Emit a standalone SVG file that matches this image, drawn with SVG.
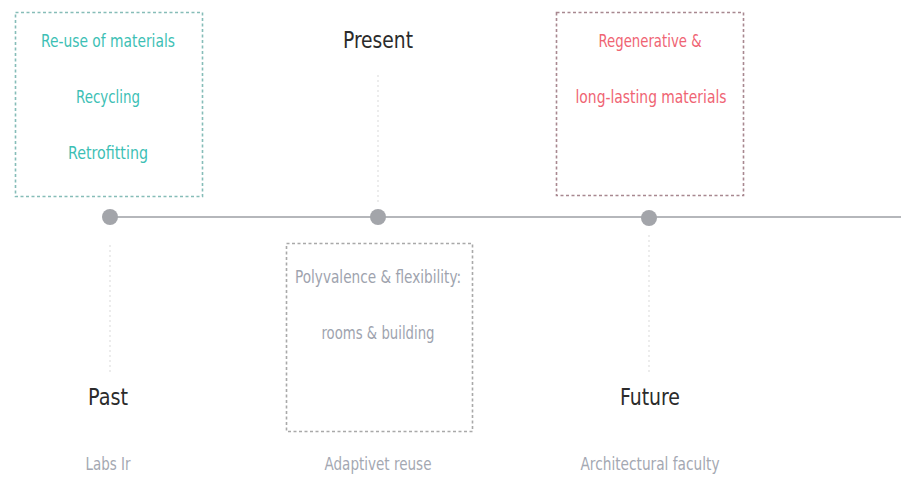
<svg xmlns="http://www.w3.org/2000/svg" width="901" height="479" viewBox="0 0 901 479">
  <defs>
    <style>
      text { font-family: "DejaVu Sans Condensed", "Liberation Sans", sans-serif; text-anchor: middle; }
      .box { fill: #ffffff; stroke-width: 1.6; stroke-dasharray: 3 2.5; }
      .teal { fill: #3dbfb5; font-size: 17px; }
      .coral { fill: #ef6473; font-size: 17px; }
      .grey { fill: #9ea3ae; font-size: 17px; }
      .era { fill: #2b2b2b; font-size: 23px; }
      .place { fill: #a4a8b2; font-size: 17px; }
      .dot { fill: #a3a5aa; }
      .stem { stroke: #ececec; stroke-width: 2; stroke-dasharray: 2 3; fill: none; }
    </style>
  </defs>

  <rect width="901" height="479" fill="#ffffff"/>

  <!-- timeline axis and faint stems -->
  <g id="connectors">
    <line x1="110" y1="217" x2="901" y2="217" stroke="#b5b7bb" stroke-width="2"/>
    <line class="stem" x1="110" y1="245" x2="110" y2="375"/>
    <line class="stem" x1="378" y1="75" x2="378" y2="205"/>
    <line class="stem" x1="649" y1="235" x2="649" y2="375"/>
  </g>

  <g id="dots">
    <circle class="dot" cx="110" cy="217" r="8"/>
    <circle class="dot" cx="378" cy="217" r="8"/>
    <circle class="dot" cx="649" cy="218" r="8"/>
  </g>

  <!-- past: circular strategies -->
  <g id="past-box">
    <rect class="box" x="15.5" y="12.5" width="187" height="184" stroke="#86bdb8"/>
    <text class="teal" x="108" y="47" textLength="134" lengthAdjust="spacingAndGlyphs">Re-use of materials</text>
    <text class="teal" x="108" y="103" textLength="64" lengthAdjust="spacingAndGlyphs">Recycling</text>
    <text class="teal" x="108" y="159" textLength="80" lengthAdjust="spacingAndGlyphs">Retrofitting</text>
  </g>

  <g id="present-title">
    <text class="era" x="378" y="48" textLength="70" lengthAdjust="spacingAndGlyphs">Present</text>
  </g>

  <!-- future: materials -->
  <g id="future-box">
    <rect class="box" x="556.5" y="12.5" width="187" height="183" stroke="#a88890"/>
    <text class="coral" x="650" y="47" textLength="103" lengthAdjust="spacingAndGlyphs">Regenerative &amp;</text>
    <text class="coral" x="651" y="103" textLength="151" lengthAdjust="spacingAndGlyphs">long-lasting materials</text>
  </g>

  <!-- present: adaptability -->
  <g id="present-box">
    <rect class="box" x="286.5" y="243.5" width="186" height="188" stroke="#a9a9a9"/>
    <text class="grey" x="378" y="283" textLength="166" lengthAdjust="spacingAndGlyphs">Polyvalence &amp; flexibility:</text>
    <text class="grey" x="378" y="339" textLength="113" lengthAdjust="spacingAndGlyphs">rooms &amp; building</text>
  </g>

  <g id="past-label">
    <text class="era" x="108" y="405" textLength="40" lengthAdjust="spacingAndGlyphs">Past</text>
    <text class="place" x="108" y="470" textLength="45" lengthAdjust="spacingAndGlyphs">Labs Ir</text>
  </g>

  <g id="present-label">
    <text class="place" x="378" y="470" textLength="107" lengthAdjust="spacingAndGlyphs">Adaptivet reuse</text>
  </g>

  <g id="future-label">
    <text class="era" x="650" y="405" textLength="60" lengthAdjust="spacingAndGlyphs">Future</text>
    <text class="place" x="650" y="470" textLength="139" lengthAdjust="spacingAndGlyphs">Architectural faculty</text>
  </g>
</svg>
